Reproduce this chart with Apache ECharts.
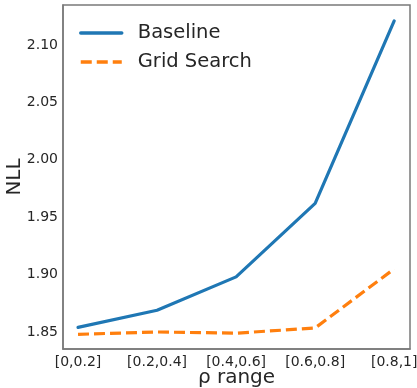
<!DOCTYPE html>
<html>
<head>
<meta charset="utf-8">
<script src="https://cdn.jsdelivr.net/npm/echarts@6/dist/echarts.min.js"></script>
<style>
html, body { margin: 0; padding: 0; background: #fff; }
#chart { width: 417px; height: 388px; }
</style>
</head>
<body>
<div id="chart"></div>
<script>
// 数据
const categories = ["[0,0.2]", "[0.2,0.4]", "[0.4,0.6]", "[0.6,0.8]", "[0.8,1]"];
const baseline = [1.854, 1.869, 1.898, 1.962, 2.121];
const gridSearch = [1.848, 1.850, 1.849, 1.8535, 1.905];
const yTicks = [1.85, 1.90, 1.95, 2.00, 2.05, 2.10];

const font = "DejaVu Sans";
const toPairs = (arr) => arr.map((v, i) => [i, v]);

let myChart = echarts.init(document.getElementById("chart"));
let option = {
	animation: false,
	grid: {
		left: 63,
		right: 7,
		top: 5,
		bottom: 39,
		outerBoundsMode: "none",
		show: true,
		borderColor: "#7a7a7a",
		borderWidth: 1.5,
	},
	legend: {
		left: 74,
		top: 18,
		orient: "vertical",
		itemWidth: 41,
		itemHeight: 20,
		itemGap: 9,
		itemStyle: { opacity: 0 },
		lineStyle: { width: 3.5 },
		textStyle: {
			fontFamily: font,
			fontSize: 19.5,
			color: "#262626",
			padding: [0, 0, 0, 11],
		},
		data: ["Baseline", "Grid Search"],
	},
	xAxis: {
		type: "value",
		min: -0.19,
		max: 4.2,
		name: "ρ range",
		nameLocation: "middle",
		nameGap: 19,
		nameMoveOverlap: false,
		nameTextStyle: { fontFamily: font, fontSize: 20, color: "#262626" },
		axisLine: { show: true, onZero: false, lineStyle: { color: "#7a7a7a", width: 1.5 } },
		axisTick: { show: false },
		splitLine: { show: false },
		axisLabel: {
			customValues: [0, 1, 2, 3, 4],
			formatter: (v) => categories[Math.round(v)] || "",
			fontFamily: font,
			fontSize: 14,
			color: "#262626",
			margin: 6,
		},
	},
	yAxis: {
		type: "value",
		min: 1.8352,
		max: 2.1348,
		name: "NLL",
		nameLocation: "middle",
		nameGap: 38,
		nameMoveOverlap: false,
		nameTextStyle: { fontFamily: font, fontSize: 20, color: "#262626" },
		axisLine: { show: true, onZero: false, lineStyle: { color: "#7a7a7a", width: 1.5 } },
		axisTick: { show: false },
		splitLine: { show: false },
		axisLabel: {
			customValues: yTicks,
			formatter: (v) => v.toFixed(2),
			fontFamily: font,
			fontSize: 14,
			color: "#262626",
			margin: 5,
		},
	},
	series: [
		{
			name: "Baseline",
			type: "line",
			data: toPairs(baseline),
			symbol: "none",
			lineStyle: { color: "#1f77b4", width: 3.2, cap: "round" },
			itemStyle: { color: "#1f77b4" },
		},
		{
			name: "Grid Search",
			type: "line",
			data: toPairs(gridSearch),
			symbol: "none",
			lineStyle: { color: "#ff7f0e", width: 3.2, type: [11, 5] },
			itemStyle: { color: "#ff7f0e" },
		},
	],
};
myChart.setOption(option);
</script>
</body>
</html>
